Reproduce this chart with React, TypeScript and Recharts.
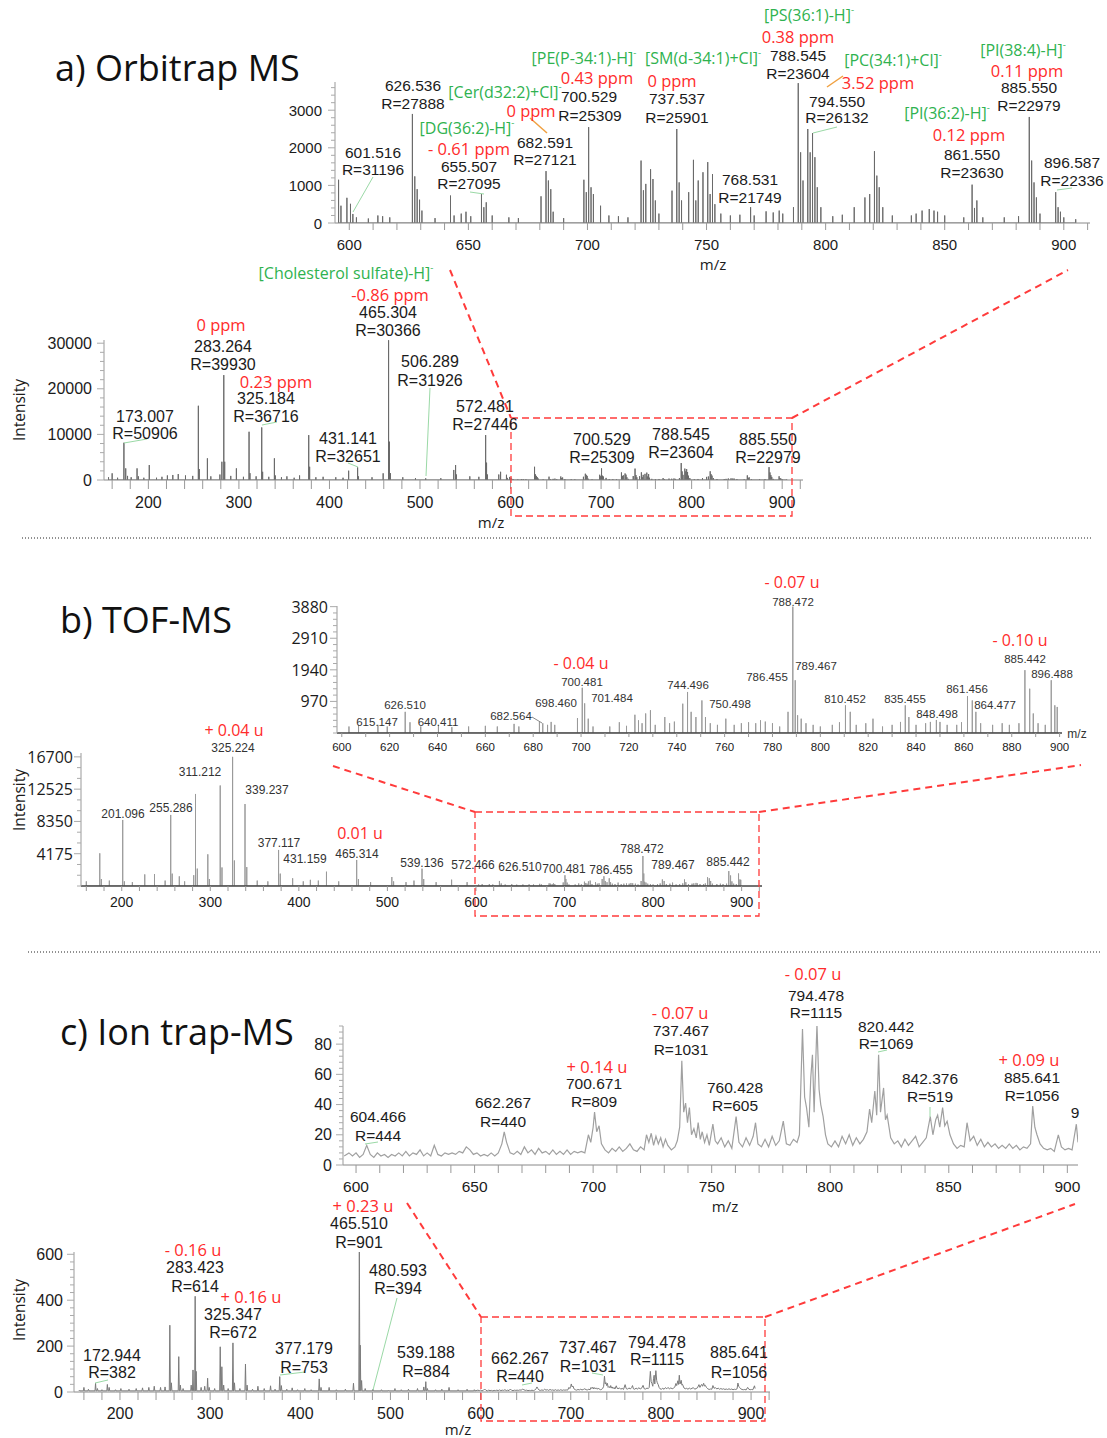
import React from "react";
import { LineChart, Line, XAxis, YAxis } from "recharts";

type Peak = [number, number];

// a) Orbitrap: [m/z, intensity]
const orbiLowPeaks: Peak[] = [
  [156, 600], [160, 1460], [166, 500], [173, 8170], [175, 2550], [177, 900], [181, 600],
  [187.5, 2550], [189, 800], [195, 500], [201, 3280], [209, 500], [215, 700], [221, 1000],
  [227, 1100], [233, 1300], [241, 1000], [249, 900], [255.2, 16280], [256.2, 2400],
  [265.2, 4750], [269, 800], [279, 1200], [281.2, 4000], [283.3, 23000], [284.3, 4000],
  [291, 900], [297.2, 2550], [305, 700], [311.2, 10580], [312.2, 1500], [319, 800],
  [325.2, 11530], [326.2, 1800], [333, 700], [339.2, 4750], [340.2, 1000], [347, 600],
  [353, 800], [361, 500], [367, 1000], [377.1, 9850], [378.1, 2900], [385, 600], [393, 700],
  [407, 600], [415, 500], [421.2, 2040], [431.1, 2780], [432.1, 800], [447, 600],
  [459.3, 1460], [465.3, 30650], [466.3, 8400], [467.3, 1500], [481, 600], [495, 400],
  [506.3, 370], [523, 400], [537.3, 2200], [539.3, 3280], [540.3, 1200], [555, 800],
  [565, 700], [572.5, 9850], [573.5, 3800], [574.5, 1200], [587, 1200], [589, 1800],
];
const orbiHighPeaks: Peak[] = [
  [595.5, 1150], [596.5, 460], [599, 670], [600.5, 510], [601.5, 240], [603, 150], [608, 120],
  [612, 200], [614, 180], [617, 150], [626.5, 2900], [627.5, 1240], [628.5, 900], [629.5, 620],
  [630.5, 330], [636, 130], [642.5, 730], [644, 200], [647, 250], [649, 300], [651, 180],
  [655.5, 770], [656.5, 420], [657.5, 550], [660, 200], [667, 150], [671, 130], [680.5, 710],
  [682.6, 1380], [683.6, 1130], [684.6, 900], [685.6, 300], [690, 130], [698.5, 1150],
  [699.5, 820], [700.5, 2550], [701.5, 950], [702.5, 770], [705.5, 460], [709, 200],
  [713, 180], [717, 150], [722.5, 1660], [723.5, 870], [724.5, 1040], [726.5, 1430],
  [727.5, 1170], [728.5, 600], [730, 250], [735.5, 860], [737.5, 2500], [738.5, 1080],
  [739.5, 600], [742.5, 820], [744.5, 1680], [745.5, 600], [746.5, 1130], [748.5, 1350],
  [750.5, 1620], [751.5, 770], [752.5, 1300], [753.5, 500], [756, 250], [760, 200],
  [764, 220], [768.5, 420], [770, 200], [775, 310], [778, 280], [780.5, 330], [782, 250],
  [786.5, 420], [788.5, 3720], [789.5, 1880], [790.5, 1130], [792.5, 2500], [793.5, 1880],
  [794.5, 2390], [795.5, 1750], [796.5, 950], [798, 420], [803, 180], [807, 220], [812, 420],
  [816.5, 680], [818.5, 770], [820.5, 1910], [821.5, 1260], [822.5, 950], [824, 420],
  [828, 200], [836, 200], [838, 250], [840.5, 330], [843.5, 370], [845.5, 330], [847, 300],
  [850, 200], [858, 150], [861.5, 1020], [862.5, 400], [863.5, 600], [866, 150], [875, 150],
  [881, 180], [885.5, 2820], [886.5, 1660], [887.5, 1080], [888.5, 680], [890, 250],
  [896.6, 820], [897.6, 420], [898.6, 300], [900, 150], [905, 100],
];

// b) TOF
const tofLowPeaks: Peak[] = [
  [160, 600], [175.2, 4230], [177, 900], [186, 700], [201.1, 8540], [203, 600], [212, 500],
  [226, 1500], [237, 1550], [249, 700], [255.3, 9190], [257, 1600], [265, 1250], [271, 600],
  [281.3, 1400], [283.3, 11900], [285.3, 2250], [297.2, 4100], [299, 900], [311.2, 13000],
  [313.2, 2400], [325.2, 16700], [327.2, 3300], [339.2, 10600], [341.2, 2450], [353, 700],
  [365, 600], [377.1, 4660], [379, 1600], [393, 1000], [405, 600], [413, 800], [422, 700],
  [431.2, 1850], [445, 600], [465.3, 3370], [467.3, 900], [481, 500], [505, 1160], [507, 600],
  [521, 500], [530, 700], [539.1, 2240], [541, 900], [555, 500], [572.5, 820], [590, 500],
];
const tofHighPeaks: Peak[] = [
  [603, 200], [607, 250], [615.1, 250], [619, 200], [626.5, 650], [628.5, 330], [633, 200],
  [640.4, 250], [646, 180], [653, 200], [660, 220], [665, 200], [672, 280], [674, 200],
  [682.6, 340], [684, 300], [686, 250], [687.5, 340], [689, 250], [698.5, 460], [700.5, 1390],
  [701.5, 910], [703, 440], [705, 200], [712, 200], [716, 330], [719, 220], [722.5, 560],
  [724, 390], [725.5, 300], [727, 600], [729, 700], [731, 250], [735, 490], [737, 300],
  [739, 350], [742.5, 900], [744.5, 1260], [746, 650], [748, 490], [750.5, 1000], [752, 490],
  [754, 300], [757, 250], [760.5, 440], [764, 250], [767, 300], [770, 330], [773, 300],
  [775, 390], [777, 350], [780, 300], [783, 200], [786.5, 650], [788.5, 3880], [789.5, 1620],
  [790.5, 545], [792, 440], [794, 300], [797, 250], [800, 200], [805, 250], [808, 330],
  [810.5, 850], [812.5, 650], [815, 250], [819, 300], [822, 440], [826, 200], [830, 250],
  [833.5, 340], [835.5, 850], [837, 490], [840, 250], [844, 300], [846, 340], [848.5, 400],
  [850, 340], [853, 250], [857, 250], [859, 330], [861.5, 1130], [863.5, 1000], [865, 650],
  [867, 300], [872, 250], [876, 300], [879, 250], [883, 300], [885.5, 1930], [887.5, 1360],
  [889, 600], [891, 300], [894, 250], [896.5, 1620], [898, 850], [899, 800],
];

// c) Ion trap
const ionLowPeaks: Peak[] = [
  [155, 8], [160, 20], [165, 12], [172.9, 38], [175, 15], [180, 10], [186, 33], [188, 20],
  [195, 10], [201, 15], [210, 12], [218, 15], [225, 18], [232, 20], [238, 25], [245, 20],
  [250, 22], [255.3, 291], [257, 40], [265.2, 154], [267, 30], [270, 15], [279, 30],
  [281, 96], [283.4, 417], [284.5, 90], [290, 20], [294, 25], [297.2, 60], [299, 20],
  [305, 15], [311.2, 197], [313, 110], [315, 30], [320, 15], [325.3, 214], [327, 40],
  [333, 15], [339.2, 122], [341, 30], [347, 12], [353, 25], [360, 15], [367, 27], [372, 12],
  [377.2, 67], [379, 28], [385, 12], [391, 18], [397, 10], [405, 15], [412, 10], [421, 57],
  [423, 20], [432, 20], [440, 10], [450, 12], [459, 38], [465.5, 610], [466.5, 204],
  [468, 50], [472, 15], [480.6, 12], [490, 10], [498, 8], [505, 15], [512, 10], [520, 12],
  [530, 15], [537, 22], [539.2, 45], [541, 15], [550, 10], [557, 12], [565, 20], [575, 10],
  [585, 12], [593, 10],
];
const ionProfile: Peak[] = [
  [595, 6], [597, 8], [598.5, 6], [600, 8], [601.5, 5], [603, 7], [604.5, 13], [606, 7],
  [607.5, 5], [609, 8], [610.5, 6], [612, 7], [613.5, 5], [615, 7], [616.5, 6], [618, 8],
  [619.5, 6], [621, 9], [622.5, 6], [624, 8], [625.5, 7], [627, 10], [628.5, 6], [630, 8],
  [631.5, 6], [633, 13], [634.5, 7], [636, 6], [637.5, 8], [639, 7], [640.5, 8], [642, 7],
  [643.5, 9], [645, 8], [646.5, 12], [648, 10], [649.5, 7], [651, 8], [652.5, 6], [654, 7],
  [655.5, 6], [657, 8], [658.5, 6], [660, 8], [661.5, 14], [662.5, 22], [663.5, 15],
  [665, 8], [666.5, 7], [668, 9], [669.5, 7], [671, 12], [672.5, 8], [674, 10], [675.5, 7],
  [677, 11], [678.5, 8], [680, 9], [681.5, 7], [683, 10], [684.5, 7], [686, 9], [687.5, 7],
  [689, 10], [690.5, 7], [692, 9], [693.5, 8], [695, 9], [696.5, 8], [698, 20], [699, 15],
  [700, 25], [700.6, 35], [701.5, 22], [702.5, 26], [703.5, 14], [705, 10], [706.5, 8],
  [708, 11], [709.5, 9], [711, 12], [712.5, 9], [714, 11], [715.5, 14], [717, 10],
  [718.5, 9], [720, 12], [721.5, 10], [722.5, 20], [723.5, 15], [724.5, 21], [725.5, 13],
  [726.5, 19], [727.5, 14], [728.5, 18], [729.5, 12], [730.5, 17], [731.5, 13], [733, 10],
  [734.5, 12], [735.5, 16], [736.5, 25], [737.4, 69], [738.2, 35], [739, 41], [739.8, 28],
  [740.6, 38], [741.5, 20], [742.5, 24], [743.5, 18], [744.3, 28], [745.2, 17], [746, 22],
  [747, 15], [748, 20], [749, 13], [750.5, 27], [751.5, 16], [752.5, 14], [754, 18],
  [755.5, 12], [757, 16], [758.5, 11], [760.3, 32], [761.5, 15], [763, 12], [764.5, 18],
  [766, 13], [767.5, 19], [768.5, 28], [769.5, 14], [771, 12], [772.5, 17], [774, 12],
  [775.5, 19], [777, 13], [778.5, 16], [780.2, 29], [781.5, 14], [783, 13], [784.5, 17],
  [786, 15], [787, 20], [788.3, 90], [789.2, 45], [790, 38], [791, 25], [791.8, 58],
  [792.5, 73], [793.2, 35], [794.4, 93], [795.3, 50], [796, 40], [797, 32], [798, 20],
  [799, 14], [800.5, 12], [802, 16], [803.5, 12], [805, 19], [806.5, 14], [808, 20],
  [809.5, 13], [811, 18], [812.5, 14], [814, 17], [815.5, 22], [816.6, 37], [817.5, 28],
  [818.8, 49], [819.6, 33], [820.4, 73], [821.2, 35], [822.5, 51], [823.3, 30], [824, 33],
  [825.5, 18], [827, 14], [828.5, 16], [830, 12], [831.5, 17], [833, 13], [834.5, 16],
  [836, 19], [837.5, 12], [839, 15], [840.5, 18], [842.2, 32], [843.3, 20], [844.5, 30],
  [845.3, 33], [846.2, 25], [847.4, 38], [848.3, 26], [849.3, 29], [850.5, 20], [852, 14],
  [853.5, 11], [855, 13], [856.5, 12], [857.7, 28], [859, 16], [860.5, 19], [862, 13],
  [863.5, 17], [865, 12], [866.5, 15], [868, 12], [869.5, 14], [871, 11], [872.5, 13],
  [874, 11], [875.5, 14], [877, 11], [878.5, 13], [880, 10], [881.5, 12], [883, 11],
  [884.5, 14], [885.4, 39], [886.3, 25], [887.2, 20], [888.5, 14], [890, 11], [891.5, 10],
  [893, 11], [894.5, 9], [896.2, 20], [897.5, 12], [899, 10], [900.5, 11], [902, 10],
  [903.8, 27], [904.5, 15],
];

// tick labels
const orbiInsetXLabels = [600, 650, 700, 750, 800, 850, 900];
const orbiInsetYLabels = [0, 1000, 2000, 3000];
const orbiMainXLabels = [200, 300, 400, 500, 600, 700, 800, 900];
const orbiMainYLabels = [0, 10000, 20000, 30000];
const tofInsetXLabels = [600, 620, 640, 660, 680, 700, 720, 740, 760, 780, 800, 820, 840, 860, 880, 900];
const tofInsetYLabels = [970, 1940, 2910, 3880];
const tofMainXLabels = [200, 300, 400, 500, 600, 700, 800, 900];
const tofMainYLabels = [4175, 8350, 12525, 16700];
const ionInsetXLabels = [600, 650, 700, 750, 800, 850, 900];
const ionInsetYLabels = [0, 20, 40, 60, 80];
const ionMainXLabels = [200, 300, 400, 500, 600, 700, 800, 900];
const ionMainYLabels = [0, 200, 400, 600];

const ARIAL = '"Liberation Sans", Arial, sans-serif';
const SANS = '"Open Sans", "Noto Sans", sans-serif';

const range = (a: number, b: number, s: number) => {
  const out: number[] = [];
  for (let i = 0; a + i * s <= b + 1e-6; i++) out.push(+(a + i * s).toFixed(4));
  return out;
};
const sticks = (peaks: Peak[], base = 0, half = 0) =>
  peaks.flatMap(([mz, v]) => [
    { mz: mz - half, v: base },
    { mz, v },
    { mz: mz + half, v: base },
  ]);
const profile = (pts: Peak[]) => pts.map(([mz, v]) => ({ mz, v }));

const PAD = 10;
const YW = 60;
const XH = 40;

const isLab = (arr: number[], v: number) => arr.some((l) => Math.abs(l - v) < 1e-3);

function Spectrum(p: any) {
  const xTick = (t: any) => {
    const v = t.payload.value;
    const lab = isLab(p.xLabels, v);
    return (
      <g>
        <line x1={t.x} x2={t.x} y1={t.y} y2={t.y + p.xLen} stroke="#999" />
        {lab && (
          <text x={t.x} y={t.y + p.xDy} textAnchor="middle" dominantBaseline="central"
            fontFamily={ARIAL} fontSize={p.xFs} fill="#1b1b1b">{v}</text>
        )}
      </g>
    );
  };
  const yTick = (t: any) => {
    const v = t.payload.value;
    const lab = isLab(p.yLabels, v);
    return (
      <g>
        <line x1={t.x} x2={t.x - (lab ? 7 : 4)} y1={t.y} y2={t.y} stroke="#aaa" />
        {lab && (
          <text x={t.x + p.yDx} y={t.y} textAnchor="end" dominantBaseline="central"
            fontFamily={p.yFont || ARIAL} fontSize={p.yFs} fill="#1b1b1b">{v}</text>
        )}
      </g>
    );
  };
  return (
    <div style={{ position: "absolute", left: p.left - YW, top: p.top - PAD }}>
      <LineChart width={YW + p.w + PAD} height={PAD + p.h + XH} data={p.data}
        margin={{ top: PAD, right: PAD, bottom: 0, left: 0 }}>
        <XAxis dataKey="mz" type="number" domain={p.xDomain} allowDataOverflow ticks={p.xTicks}
          interval={0} tickSize={0} tickMargin={0} tick={xTick} height={XH} tickLine={false}
          axisLine={{ stroke: p.axis || "#888", strokeWidth: p.axisW || 1 }} />
        <YAxis type="number" domain={p.yDomain} allowDataOverflow ticks={p.yTicks} interval={0}
          tickSize={0} tickMargin={0} tick={yTick} width={YW} tickLine={false}
          axisLine={{ stroke: "#999" }} />
        <Line type="linear" dataKey="v" stroke={p.stroke} strokeWidth={p.sw || 1} dot={false}
          activeDot={false} isAnimationActive={false} />
      </LineChart>
    </div>
  );
}

const STYLE: Record<string, React.CSSProperties> = {
  n: { font: `15.5px ${ARIAL}`, color: "#1b1b1b" },
  m: { font: `16px ${ARIAL}`, color: "#1b1b1b" },
  s: { font: `11.5px ${ARIAL}`, color: "#333" },
  t: { font: `12px ${ARIAL}`, color: "#333" },
  r: { font: `16.5px ${SANS}`, color: "#ff2b2b" },
  u: { font: `16px ${SANS}`, color: "#ff2b2b" },
  g: { font: `16px ${SANS}`, color: "#2fb24f" },
  l: { font: `15px ${SANS}`, color: "#1b1b1b" },
};

// peak annotations: [text, centre x, centre y, style]
const notes: [string, number, number, string][] = [
  // a) inset
  ["626.536", 413, 86, "n"], ["R=27888", 413, 104, "n"],
  ["[Cer(d32:2)+Cl]", 505, 92, "g"], ["0 ppm", 531, 110, "r"],
  ["[DG(36:2)-H]", 467, 128, "g"], ["- 0.61 ppm", 469, 148, "r"],
  ["655.507", 469, 167, "n"], ["R=27095", 469, 184, "n"],
  ["601.516", 373, 153, "n"], ["R=31196", 373, 170, "n"],
  ["682.591", 545, 143, "n"], ["R=27121", 545, 160, "n"],
  ["[PE(P-34:1)-H]", 584, 58, "g"], ["0.43 ppm", 597, 77, "r"],
  ["700.529", 589, 97, "n"], ["R=25309", 590, 116, "n"],
  ["[SM(d-34:1)+Cl]", 703, 58, "g"], ["0 ppm", 672, 80, "r"],
  ["737.537", 677, 99, "n"], ["R=25901", 677, 118, "n"],
  ["[PS(36:1)-H]", 809, 15, "g"], ["0.38 ppm", 798, 36, "r"],
  ["788.545", 798, 56, "n"], ["R=23604", 798, 74, "n"],
  ["[PC(34:1)+Cl]", 893, 60, "g"], ["3.52 ppm", 878, 82, "r"],
  ["794.550", 837, 102, "n"], ["R=26132", 837, 118, "n"],
  ["768.531", 750, 180, "n"], ["R=21749", 750, 198, "n"],
  ["[PI(36:2)-H]", 947, 113, "g"], ["0.12 ppm", 969, 134, "r"],
  ["861.550", 972, 155, "n"], ["R=23630", 972, 173, "n"],
  ["[PI(38:4)-H]", 1023, 50, "g"], ["0.11 ppm", 1027, 70, "r"],
  ["885.550", 1029, 88, "n"], ["R=22979", 1029, 106, "n"],
  ["896.587", 1072, 163, "n"], ["R=22336", 1072, 181, "n"],
  // a) full
  ["[Cholesterol sulfate)-H]", 346, 273, "g"], ["-0.86 ppm", 390, 294, "r"],
  ["465.304", 388, 313, "m"], ["R=30366", 388, 331, "m"],
  ["0 ppm", 221, 324, "r"], ["283.264", 223, 347, "m"], ["R=39930", 223, 365, "m"],
  ["0.23 ppm", 276, 381, "r"], ["325.184", 266, 399, "m"], ["R=36716", 266, 417, "m"],
  ["173.007", 145, 417, "m"], ["R=50906", 145, 434, "m"],
  ["431.141", 348, 439, "m"], ["R=32651", 348, 457, "m"],
  ["506.289", 430, 362, "m"], ["R=31926", 430, 381, "m"],
  ["572.481", 485, 407, "m"], ["R=27446", 485, 425, "m"],
  ["700.529", 602, 440, "m"], ["R=25309", 602, 458, "m"],
  ["788.545", 681, 435, "m"], ["R=23604", 681, 453, "m"],
  ["885.550", 768, 440, "m"], ["R=22979", 768, 458, "m"],
  // b) inset
  ["615.147", 377, 722, "s"], ["626.510", 405, 705, "s"], ["640.411", 438, 722, "s"],
  ["682.564", 511, 716, "s"], ["698.460", 556, 703, "s"], ["700.481", 582, 682, "s"],
  ["701.484", 612, 698, "s"], ["744.496", 688, 685, "s"], ["750.498", 730, 704, "s"],
  ["786.455", 767, 677, "s"], ["788.472", 793, 602, "s"], ["789.467", 816, 666, "s"],
  ["810.452", 845, 699, "s"], ["835.455", 905, 699, "s"], ["848.498", 937, 714, "s"],
  ["861.456", 967, 689, "s"], ["864.477", 995, 705, "s"], ["885.442", 1025, 659, "s"],
  ["896.488", 1052, 674, "s"], ["m/z", 1077, 734, "t"],
  ["- 0.04 u", 581, 663, "u"], ["- 0.07 u", 792, 582, "u"], ["- 0.10 u", 1020, 640, "u"],
  // b) full
  ["201.096", 123, 814, "t"], ["255.286", 171, 808, "t"], ["311.212", 200, 772, "t"],
  ["325.224", 233, 748, "t"], ["339.237", 267, 790, "t"], ["377.117", 279, 843, "t"],
  ["431.159", 305, 859, "t"], ["465.314", 357, 854, "t"], ["539.136", 422, 863, "t"],
  ["572.466", 473, 865, "t"], ["626.510", 520, 867, "t"], ["700.481", 564, 869, "t"],
  ["786.455", 611, 870, "t"], ["788.472", 642, 849, "t"], ["789.467", 673, 865, "t"],
  ["885.442", 728, 862, "t"], ["+ 0.04 u", 234, 730, "u"], ["0.01 u", 360, 833, "u"],
  // c) inset
  ["604.466", 378, 1117, "n"], ["R=444", 378, 1136, "n"],
  ["662.267", 503, 1103, "n"], ["R=440", 503, 1122, "n"],
  ["+ 0.14 u", 597, 1066, "r"], ["700.671", 594, 1084, "n"], ["R=809", 594, 1102, "n"],
  ["- 0.07 u", 680, 1012, "r"], ["737.467", 681, 1031, "n"], ["R=1031", 681, 1050, "n"],
  ["760.428", 735, 1088, "n"], ["R=605", 735, 1106, "n"],
  ["- 0.07 u", 813, 973, "r"], ["794.478", 816, 996, "n"], ["R=1115", 816, 1013, "n"],
  ["820.442", 886, 1027, "n"], ["R=1069", 886, 1044, "n"],
  ["842.376", 930, 1079, "n"], ["R=519", 930, 1097, "n"],
  ["+ 0.09 u", 1029, 1059, "r"], ["885.641", 1032, 1078, "n"], ["R=1056", 1032, 1096, "n"],
  ["9", 1075, 1113, "n"],
  // c) full
  ["+ 0.23 u", 363, 1205, "r"], ["465.510", 359, 1224, "m"], ["R=901", 359, 1243, "m"],
  ["- 0.16 u", 193, 1249, "r"], ["283.423", 195, 1268, "m"], ["R=614", 195, 1287, "m"],
  ["+ 0.16 u", 251, 1296, "r"], ["325.347", 233, 1315, "m"], ["R=672", 233, 1333, "m"],
  ["172.944", 112, 1356, "m"], ["R=382", 112, 1373, "m"],
  ["377.179", 304, 1349, "m"], ["R=753", 304, 1368, "m"],
  ["480.593", 398, 1271, "m"], ["R=394", 398, 1289, "m"],
  ["539.188", 426, 1353, "m"], ["R=884", 426, 1372, "m"],
  ["662.267", 520, 1359, "m"], ["R=440", 520, 1377, "m"],
  ["737.467", 588, 1348, "m"], ["R=1031", 588, 1367, "m"],
  ["794.478", 657, 1343, "m"], ["R=1115", 657, 1360, "m"],
  ["885.641", 739, 1353, "m"], ["R=1056", 739, 1373, "m"],
  // axis titles
  ["m/z", 713, 264, "l"], ["m/z", 491, 522, "l"], ["m/z", 725, 1206, "l"], ["m/z", 458, 1429, "l"],
];

// label leader lines
const leaders: [number, number, number, number, string][] = [
  [373, 177, 353, 212, "#9ad9a6"], [470, 192, 484, 194, "#9ad9a6"],
  [813, 133, 837, 127, "#9ad9a6"], [1057, 190, 1072, 188, "#9ad9a6"],
  [530, 118, 547, 133, "#f0a040"], [827, 87, 843, 76, "#f0a040"],
  [124, 443, 147, 439, "#9ad9a6"], [262, 425, 277, 422, "#9ad9a6"],
  [430, 388, 426, 476, "#9ad9a6"], [348, 463, 358, 467, "#9ad9a6"],
  [365, 1144, 378, 1142, "#9ad9a6"], [878, 1052, 887, 1050, "#9ad9a6"],
  [930, 1107, 930, 1117, "#9ad9a6"], [95, 1383, 108, 1380, "#9ad9a6"],
  [280, 1375, 305, 1372, "#9ad9a6"], [397, 1298, 373, 1390, "#9ad9a6"],
  [522, 1385, 532, 1383, "#9ad9a6"], [592, 1373, 603, 1375, "#9ad9a6"],
  [532, 717, 542, 723, "#888"],
];

const RED = "#ff3b3b";

export default function App() {
  const orbiMain = [...sticks(orbiLowPeaks), ...sticks(orbiHighPeaks)];
  const tofMain = [...sticks(tofLowPeaks), ...sticks(tofHighPeaks)];
  const ionMain = [...sticks(ionLowPeaks, 5, 0.6), ...profile(ionProfile)];

  return (
    <div style={{ position: "absolute", left: 0, top: 0, width: 1107, height: 1438, background: "#fff", overflow: "hidden" }}>
      {/* a) Orbitrap */}
      <Spectrum left={335} top={82} w={755} h={141} xDomain={[594, 911]} yDomain={[0, 3750]}
        data={sticks(orbiHighPeaks)} stroke="#6a6a6a"
        xTicks={range(600, 910, 10)} xLabels={orbiInsetXLabels} xLen={7} xDy={21} xFs={15}
        yTicks={range(0, 3600, 200)} yLabels={orbiInsetYLabels} yDx={-13} yFs={15} />
      <Spectrum left={104} top={340} w={699} h={140} xDomain={[151, 923]} yDomain={[0, 30700]}
        data={orbiMain} stroke="#6a6a6a"
        xTicks={range(160, 920, 20)} xLabels={orbiMainXLabels} xLen={9} xDy={22} xFs={16}
        yTicks={range(0, 30000, 2000)} yLabels={orbiMainYLabels} yDx={-12} yFs={16} />

      {/* b) TOF */}
      <Spectrum left={337} top={606} w={725} h={127} xDomain={[598, 901]} yDomain={[0, 3900]}
        data={sticks(tofHighPeaks)} stroke="#9a9a9a" axis="#444" axisW={1.6}
        xTicks={range(600, 900, 10)} xLabels={tofInsetXLabels} xLen={4} xDy={14} xFs={11.5}
        yTicks={range(0, 3880, 194)} yLabels={tofInsetYLabels} yDx={-9} yFs={16} yFont={SANS} />
      <Spectrum left={81} top={753} w={681} h={133} xDomain={[154, 923]} yDomain={[0, 17200]}
        data={tofMain} stroke="#9a9a9a" axis="#444" axisW={1.6}
        xTicks={range(160, 920, 20)} xLabels={tofMainXLabels} xLen={5} xDy={16} xFs={14}
        yTicks={range(0, 16700, 4175 / 3)} yLabels={tofMainYLabels} yDx={-8} yFs={16} yFont={SANS} />

      {/* c) Ion trap */}
      <Spectrum left={343} top={1026} w={735} h={139} xDomain={[594.5, 904.5]} yDomain={[0, 92]}
        data={profile(ionProfile)} stroke="#a0a0a0" sw={1.2}
        xTicks={range(600, 900, 10)} xLabels={ionInsetXLabels} xLen={8} xDy={21} xFs={15.5}
        yTicks={range(0, 92, 4)} yLabels={ionInsetYLabels} yDx={-11} yFs={16} />
      <Spectrum left={74} top={1252} w={696} h={140} xDomain={[149, 921]} yDomain={[0, 610]}
        data={ionMain} stroke="#7a7a7a"
        xTicks={range(160, 920, 20)} xLabels={ionMainXLabels} xLen={8} xDy={21} xFs={16}
        yTicks={range(0, 600, 100 / 3)} yLabels={ionMainYLabels} yDx={-11} yFs={16} />

      <svg width={1107} height={1438} style={{ position: "absolute", left: 0, top: 0, pointerEvents: "none" }}>
        <line x1={22} y1={538} x2={1093} y2={538} stroke="#222" strokeDasharray="1 2" />
        <line x1={28} y1={952} x2={1100} y2={952} stroke="#222" strokeDasharray="1 2" />
        {/* zoom boxes */}
        <rect x={511} y={418} width={281} height={98} fill="none" stroke={RED} strokeWidth={1.3} strokeDasharray="7 4" />
        <line x1={450} y1={270} x2={511} y2={418} stroke={RED} strokeWidth={2} strokeDasharray="7 5" />
        <line x1={792} y1={418} x2={1068} y2={270} stroke={RED} strokeWidth={2} strokeDasharray="7 5" />
        <rect x={475} y={812} width={284} height={104} fill="none" stroke={RED} strokeWidth={1.3} strokeDasharray="7 4" />
        <line x1={333} y1={766} x2={475} y2={812} stroke={RED} strokeWidth={2} strokeDasharray="7 5" />
        <line x1={759} y1={812} x2={1081} y2={765} stroke={RED} strokeWidth={2} strokeDasharray="7 5" />
        <rect x={481} y={1317} width={284} height={104} fill="none" stroke={RED} strokeWidth={1.3} strokeDasharray="7 4" />
        <line x1={407} y1={1203} x2={481} y2={1317} stroke={RED} strokeWidth={2} strokeDasharray="7 5" />
        <line x1={765} y1={1317} x2={1075} y2={1204} stroke={RED} strokeWidth={2} strokeDasharray="7 5" />
        {leaders.map(([x1, y1, x2, y2, c], i) => (
          <line key={i} x1={x1} y1={y1} x2={x2} y2={y2} stroke={c} strokeWidth={c === "#f0a040" ? 1.5 : 1} />
        ))}
      </svg>

      {notes.map(([t, x, y, k], i) => (
        <div key={i} style={{ position: "absolute", left: x, top: y, transform: "translate(-50%, -50%)", whiteSpace: "nowrap", lineHeight: 1, ...STYLE[k] }}>
          {t}
          {k === "g" && <span style={{ fontSize: "0.6em", position: "relative", top: "-0.8em" }}>-</span>}
        </div>
      ))}

      {[["a) Orbitrap MS", 55, 68], ["b) TOF-MS", 60, 620], ["c) Ion trap-MS", 60, 1032]].map(([t, x, y], i) => (
        <div key={i} style={{ position: "absolute", left: x as number, top: y as number, transform: "translateY(-50%)", font: `36px ${SANS}`, color: "#111", lineHeight: 1, whiteSpace: "nowrap" }}>{t}</div>
      ))}

      {[410, 800, 1310].map((y, i) => (
        <div key={i} style={{ position: "absolute", left: 20, top: y, transform: "translate(-50%, -50%) rotate(-90deg)", font: `15.5px ${SANS}`, color: "#1b1b1b", lineHeight: 1, whiteSpace: "nowrap" }}>Intensity</div>
      ))}
    </div>
  );
}
